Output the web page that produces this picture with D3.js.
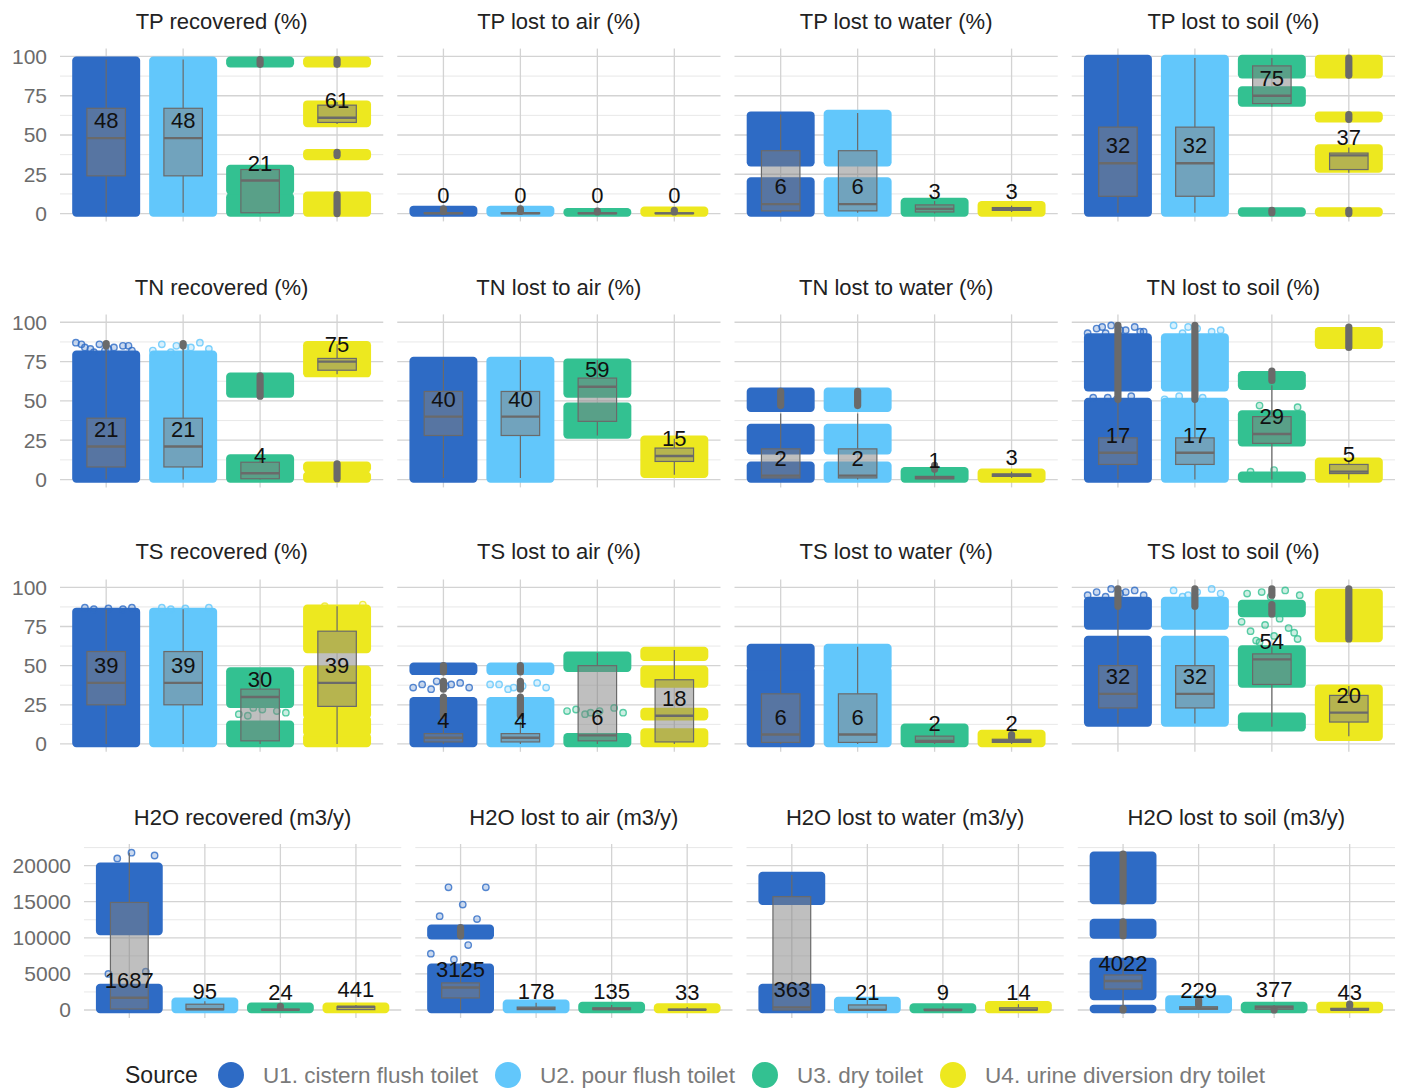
<!DOCTYPE html>
<html><head><meta charset="utf-8">
<script src="https://cdn.jsdelivr.net/npm/d3@7"></script>
<style>body{margin:0;background:#fff;} text{font-family:"Liberation Sans", Arial, sans-serif;}</style>
</head><body><svg id="c" width="1403" height="1088"></svg>
<script>
const sources = ["U1. cistern flush toilet","U2. pour flush toilet","U3. dry toilet","U4. urine diversion dry toilet"];
const colors = ["#2E6BC5","#62C7FB","#33C191","#EDE81F"];
const titles = [
 "TP recovered (%)","TP lost to air (%)","TP lost to water (%)","TP lost to soil (%)",
 "TN recovered (%)","TN lost to air (%)","TN lost to water (%)","TN lost to soil (%)",
 "TS recovered (%)","TS lost to air (%)","TS lost to water (%)","TS lost to soil (%)",
 "H2O recovered (m3/y)","H2O lost to air (m3/y)","H2O lost to water (m3/y)","H2O lost to soil (m3/y)"];
const pctTicks = [0,25,50,75,100];
const pctMinor = [12.5,37.5,62.5,87.5];
const waterTicks = [0,5000,10000,15000,20000];
const waterMinor = [2500,7500,12500,17500,22500];

const medianLabels = [
 ["48","48","21","61"],["0","0","0","0"],["6","6","3","3"],["32","32","75","37"],
 ["21","21","4","75"],["40","40","59","15"],["2","2","1","3"],["17","17","29","5"],
 ["39","39","30","39"],["4","4","6","18"],["6","6","2","2"],["32","32","54","20"],
 ["1687","95","24","441"],["3125","178","135","33"],["363","21","9","14"],["4022","229","377","43"]];

// [lower whisker, q1, median, q3, upper whisker]
const boxStats = [
 [[0.5,24,48,67,98],[0.5,24,48,67,98],[0,0.5,21,28,29],[57,58,61,69,71]],
 [[0,0,0.2,0.5,1.2],[0,0,0.2,0.5,1.2],[0,0,0.1,0.4,1],[0,0,0.1,0.4,1]],
 [[0.5,1.7,6,40,63],[0.5,1.7,6,40,64],[0,1,3,5.5,8],[1,2,3,3.8,5]],
 [[0.5,11,32,55,99],[0.5,11,32,55,99],[68,70,75,94,99],[26,28,37,38.5,42]],
 [[0,8,21,39,85],[0,8,21,39,85],[0,0.5,4,11,14],[67,69.5,75,77,86]],
 [[1,28,40,56,76],[1,28,40,56,76],[28,37,59,64.5,76],[3,11.5,15,20,26]],
 [[0,1,2.5,19.5,42],[0,1,2.5,19.5,42],[0,0.5,1,2,5],[1,2,3,3.5,5]],
 [[0,9.6,17,26.5,50],[0,9.6,17,26.5,50],[0,23,29,40,60],[0,3.8,5,9.6,12]],
 [[0,25,39,59,86],[0,25,39,59,86],[0,2,30,35,47],[0,24,39,72,88]],
 [[0,1.3,4,6.6,14],[0,1.3,4,6.6,14],[0,2,5.5,50,58],[0,1.3,18,41,60]],
 [[0,1,6,32,62],[0,1,6,32,62],[0,1,2,5,12],[0,1,2,3,5]],
 [[13,23,32,50,87],[13,23,32,50,87],[11,38,54,57.5,62],[5,14,20,31,37]],
 [[0,140,1687,14900,21800],[0,50,95,800,1200],[0,10,24,100,300],[0,50,441,460,700]],
 [[0,1670,3125,3750,6500],[0,50,178,400,1000],[0,60,135,300,700],[0,10,33,100,400]],
 [[0,0,363,15700,18700],[0,5,21,700,1400],[0,2,9,100,500],[0,3,14,300,800]],
 [[0,2900,4022,4850,6800],[0,100,229,450,700],[0,100,377,550,700],[0,0,43,230,500]]];

// dense jittered point bands [low, high]
const pointBands = [
 [[[0,98]],[[0,98]],[[0,11],[14,29],[95,98]],[[0,12],[36,39],[57,70],[95,98]]],
 [[[0,3]],[[0,3]],[[0,1.5]],[[0,2.5]]],
 [[[0,21],[32,63]],[[0,21],[32,64]],[[0,8]],[[0,6]]],
 [[[0,99]],[[0,99]],[[0,2],[70,79],[88,99]],[[0,2],[28,42],[60,63],[88,99]]],
 [[[0,80]],[[0,80]],[[0,14],[54,66]],[[0,3],[6.5,9.5],[67,86]]],
 [[[0,76]],[[0,76]],[[28,47],[54,75]],[[3,26]]],
 [[[0,9.5],[18,33.5],[45,56.5]],[[0,9.5],[18,33.5],[45,56.5]],[[0,6]],[[0,5]]],
 [[[0,50],[58,91]],[[0,50],[58,91]],[[0,3],[23,42],[59,67]],[[0,12],[85,95]]],
 [[[0,85]],[[0,85]],[[0,13],[25,47]],[[0,5],[7,16],[18,48],[60,87]]],
 [[[0,28],[46,50]],[[0,28],[46,50]],[[0,5],[48,57]],[[0,8],[17,21],[38,48],[55,60]]],
 [[[0,47.5],[49,62]],[[0,47.5],[49,62]],[[0,11]],[[0,7]]],
 [[[13,67],[75,92]],[[13,67],[75,92]],[[10,18],[38,61],[83,90]],[[4,36],[67,97]]],
 [[[0,3200],[10800,20000]],[[0,1300]],[[0,600]],[[0,600]]],
 [[[0,6000],[10200,11400]],[[0,1000]],[[0,700]],[[0,500]]],
 [[[0,3200],[15000,18700]],[[0,1400]],[[0,500]],[[0,800]]],
 [[[0,300],[1800,6800],[10300,12200],[15100,21500]],[[0,1600]],[[0,700]],[[0,700]]]];

// scattered individual points (values)
const sparsePoints = [
 [[],[],[],[]],[[],[],[],[]],[[],[],[],[]],[[],[],[],[]],
 [[81,82,83,84,85,86,87,84,83,85,82,86],[81,83,84,86,87,85,82,84],[],[]],
 [[],[],[],[]],[[],[],[],[]],
 [[93,94,95,96,97,98,93,95,97,94,51,52,53,52],[93,95,96,98,94,97,51,52,53],[47,46,6,5],[]],
 [[86,87,86.5,87,86],[86,87,86.5,87],[18,20,22,19,21,23],[88,89]],
 [[35,36,37,38,39,40,36,38],[35,36,37,38,39,36,38],[19,20,21,22,23,20,21],[]],
 [[],[],[],[]],
 [[94,95,96,97,98,99,95,97],[94,96,97,98,99,95],[65,67,69,72,74,76,78,80,66,71,94,96,98,97,95],[]],
 [[21000,21400,21800,5000,5300],[],[],[]],
 [[17000,17000,14600,13000,12600,7000,7800,9000],[],[],[]],
 [[],[],[],[]],
 [[],[],[],[]]];

// boxplot outliers (overplotted) [low, high]
const outlierRanges = [
 [[],[],[[95,98]],[[0,12],[37,39],[95,98]]],
 [[[1.3,3]],[[1.3,3]],[[1,1.5]],[[1,2]]],
 [[],[],[],[]],
 [[],[],[[0.5,2]],[[0,2],[60,63],[88,99]]],
 [[[85,86.5]],[[85,86.5]],[[53,66]],[[0.5,10]]],
 [[],[],[],[]],
 [[[47,56]],[[47,56]],[[6.5,9]],[]],
 [[[51,98]],[[51,98]],[[63,69]],[[84,97]]],
 [[],[],[],[]],
 [[[18,30],[35,40],[46,50]],[[18,30],[35,40],[46,50]],[],[]],
 [[],[],[],[[4,6]]],
 [[[88,99]],[[88,99]],[[83,89],[95,99]],[[67,99]]],
 [[],[],[[400,500]],[]],
 [[[10300,11400]],[],[],[]],
 [[],[],[],[]],
 [[[0,200],[10300,12200],[15100,21600]],[[700,1400]],[[0,100]],[[600,800]]]];

// ---------- layout ----------
const svg = d3.select("#c");
const rowLayout = [
 {top:48.6, bottom:221.4, dom:[-5,105], ticks:pctTicks, minor:pctMinor, left:60, w:323.25, titleY:29},
 {top:314.4, bottom:487.4, dom:[-5,105], ticks:pctTicks, minor:pctMinor, left:60, w:323.25, titleY:295},
 {top:579.5, bottom:751.8, dom:[-5,105], ticks:pctTicks, minor:pctMinor, left:60, w:323.25, titleY:559},
 {top:844, bottom:1017.9, dom:[-1095,22995], ticks:waterTicks, minor:waterMinor, left:84, w:317.25, titleY:825}];
const gap = 14;
const r = 3.2;
const grey = "#6a6a6a";

titles.forEach((title, p) => {
  const row = Math.floor(p/4), col = p%4;
  const L = rowLayout[row];
  const x0 = L.left + col*(L.w+gap);
  const x = d3.scalePoint().domain(sources).range([x0, x0+L.w]).padding(0.6);
  const y = d3.scaleLinear().domain(L.dom).range([L.bottom, L.top]);
  const step = x.step();
  const g = svg.append("g");

  g.selectAll(".mn").data(L.minor).join("line")
    .attr("x1",x0).attr("x2",x0+L.w).attr("y1",d=>y(d)).attr("y2",d=>y(d))
    .attr("stroke","#e2e2e2").attr("stroke-width",0.8);
  g.selectAll(".mj").data(L.ticks).join("line")
    .attr("x1",x0).attr("x2",x0+L.w).attr("y1",d=>y(d)).attr("y2",d=>y(d))
    .attr("stroke","#d3d3d3").attr("stroke-width",1.3);
  g.selectAll(".vx").data(sources).join("line")
    .attr("x1",d=>x(d)).attr("x2",d=>x(d)).attr("y1",L.top).attr("y2",L.bottom)
    .attr("stroke","#d3d3d3").attr("stroke-width",1.3);

  if (col === 0) {
    g.selectAll(".yt").data(L.ticks).join("text")
      .attr("x", x0-13).attr("y", d=>y(d)).attr("dy","0.35em")
      .attr("text-anchor","end").attr("font-size",21).attr("fill","#6b6b6b")
      .text(d=>d);
  }

  g.append("text").attr("x", x0+L.w/2).attr("y", L.titleY)
    .attr("text-anchor","middle").attr("font-size",22).attr("fill","#222").text(title);

  const hw = 0.4*step + r;
  sources.forEach((s, k) => {
    const cx = x(s);
    g.selectAll(null).data(pointBands[p][k]).join("rect")
      .attr("x", cx-hw).attr("width", 2*hw)
      .attr("y", d=>y(d[1])-r).attr("height", d=>y(d[0])-y(d[1])+2*r)
      .attr("rx", r+1).attr("fill", colors[k]);
    // individual scattered points, spread across the jitter width by index
    g.selectAll(null).data(sparsePoints[p][k]).join("circle")
      .attr("cx", (d,i)=> cx + (((i*0.618034+0.3)%1)-0.5)*0.8*step)
      .attr("cy", d=>y(d)).attr("r", r)
      .attr("fill", colors[k]).attr("fill-opacity",0.25)
      .attr("stroke", colors[k]).attr("stroke-opacity",0.8).attr("stroke-width",1.4);
  });

  sources.forEach((s, k) => {
    const cx = x(s);
    const [lo,q1,med,q3,hi] = boxStats[p][k];
    const bw = 0.25*step;
    const bx = g.append("g");
    bx.append("line").attr("x1",cx).attr("x2",cx).attr("y1",y(lo)).attr("y2",y(q1))
      .attr("stroke",grey).attr("stroke-width",1.2);
    bx.append("line").attr("x1",cx).attr("x2",cx).attr("y1",y(q3)).attr("y2",y(hi))
      .attr("stroke",grey).attr("stroke-width",1.2);
    bx.append("rect").attr("x",cx-bw).attr("width",2*bw)
      .attr("y",y(q3)).attr("height",Math.max(y(q1)-y(q3),0.5))
      .attr("fill","#7f7f7f").attr("fill-opacity",0.5)
      .attr("stroke",grey).attr("stroke-width",1.2);
    bx.append("line").attr("x1",cx-bw).attr("x2",cx+bw).attr("y1",y(med)).attr("y2",y(med))
      .attr("stroke",grey).attr("stroke-width",2.4);
    g.selectAll(null).data(outlierRanges[p][k]).join("rect")
      .attr("x", cx-3.6).attr("width", 7.2)
      .attr("y", d=>y(d[1])-3.6).attr("height", d=>y(d[0])-y(d[1])+7.2)
      .attr("rx", 3.6).attr("fill",grey);
    g.append("text").attr("x",cx).attr("y",y(med)-10)
      .attr("text-anchor","middle").attr("font-size",22).attr("fill","#111")
      .text(medianLabels[p][k]);
  });
});

// legend
const lg = svg.append("g");
lg.append("text").attr("x",125).attr("y",1083).attr("font-size",23).attr("fill","#222").text("Source");
const legX = [231, 508, 765, 953];
const legW = [215, 195, 126, 280];
sources.forEach((s,k) => {
  lg.append("circle").attr("cx",legX[k]).attr("cy",1075).attr("r",13).attr("fill",colors[k]);
  lg.append("text").attr("x",legX[k]+32).attr("y",1083).attr("font-size",22).attr("fill","#7a7a7a")
    .attr("textLength",legW[k]).attr("lengthAdjust","spacingAndGlyphs").text(s);
});
</script></body></html>
